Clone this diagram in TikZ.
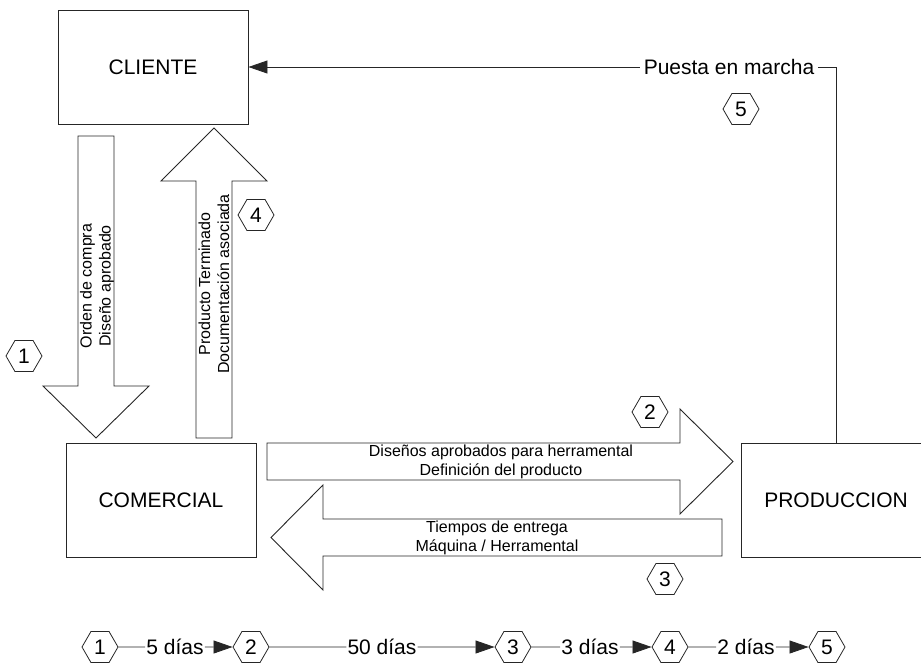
\documentclass[tikz,border=0pt]{standalone}
\usepackage{fontspec}
\setmainfont{Liberation Sans}
\usetikzlibrary{shapes.geometric,arrows.meta}
\begin{document}
\begin{tikzpicture}[x=1pt,y=-1pt,
  bigtxt/.style={font=\fontsize{21}{25}\selectfont},
  smalltxt/.style={font=\fontsize{16}{19}\selectfont,align=center,inner sep=0pt},
  deptbox/.style={draw=black!85,line width=0.9pt,minimum width=190pt,minimum height=114pt,inner sep=0pt,font=\fontsize{21}{25}\selectfont},
  hexa/.style={regular polygon,regular polygon sides=6,draw=black!85,line width=0.8pt,minimum size=36pt,inner sep=0pt,font=\fontsize{21}{25}\selectfont},
  daytxt/.style={inner sep=1pt,font=\fontsize{21}{25}\selectfont},
  ln/.style={draw=black!85,line width=0.8pt},
  tip/.style={ln,-{Triangle[length=19pt,width=13pt]}},
  blockarrow/.style={draw=black!85,line width=0.9pt,fill=white}
]
\useasboundingbox (0,0) rectangle (921,662);
\clip (0,0) rectangle (921,662);

% boxes
\node[deptbox] (cliente) at (153,67) {CLIENTE};
\node[deptbox] (comercial) at (161,500) {COMERCIAL};
\node[deptbox] (produccion) at (836,500) {PRODUCCION};

% Puesta en marcha connector
\node[bigtxt,inner sep=4pt] (puesta) at (729,67) {Puesta en marcha};
\draw[tip] (puesta.west) -- (cliente.east);
\draw[ln] (puesta.east) -| (produccion.north);

% block arrow 1 (down)
\draw[blockarrow] (78,136) -- (114,136) -- (114,386) -- (149,386) -- (96,438) -- (43,386) -- (78,386) -- cycle;
\node[smalltxt,rotate=90] (t1) at (97,286) {Orden de compra\\Diseño aprobado};

% block arrow 4 (up)
\draw[blockarrow] (196,438) -- (232,438) -- (232,181) -- (267,181) -- (214,128) -- (161,181) -- (196,181) -- cycle;
\node[smalltxt,rotate=90] (t4) at (214,284) {Producto Terminado\\Documentación asociada};

% block arrow 2 (right)
\draw[blockarrow] (267,443) -- (680,443) -- (680,409) -- (733,461.5) -- (680,514) -- (680,480) -- (267,480) -- cycle;
\node[smalltxt] (t2) at (501,461.5) {Diseños aprobados para herramental\\Definición del producto};

% block arrow 3 (left)
\draw[blockarrow] (722,519) -- (323,519) -- (323,485) -- (271,537.5) -- (323,590) -- (323,556) -- (722,556) -- cycle;
\node[smalltxt] (t3) at (497,537.5) {Tiempos de entrega\\Máquina / Herramental};

% step hexagons
\node[hexa] (h1) at (24,356) {1};
\node[hexa] (h2) at (650,412) {2};
\node[hexa] (h3) at (665,579) {3};
\node[hexa] (h4) at (256,215) {4};
\node[hexa] (h5) at (741,109) {5};

% timeline
\node[hexa] (b1) at (100,647) {1};
\node[daytxt] (d1) at (175,647) {5 días};
\node[hexa] (b2) at (251,647) {2};
\node[daytxt] (d2) at (382,647) {50 días};
\node[hexa] (b3) at (513,647) {3};
\node[daytxt] (d3) at (590,647) {3 días};
\node[hexa] (b4) at (670,647) {4};
\node[daytxt] (d4) at (746,647) {2 días};
\node[hexa] (b5) at (827,647) {5};

\draw[ln] (b1.east) -- (d1.west);
\draw[tip] (d1.east) -- (b2.west);
\draw[ln] (b2.east) -- (d2.west);
\draw[tip] (d2.east) -- (b3.west);
\draw[ln] (b3.east) -- (d3.west);
\draw[tip] (d3.east) -- (b4.west);
\draw[ln] (b4.east) -- (d4.west);
\draw[tip] (d4.east) -- (b5.west);
\end{tikzpicture}
\end{document}
